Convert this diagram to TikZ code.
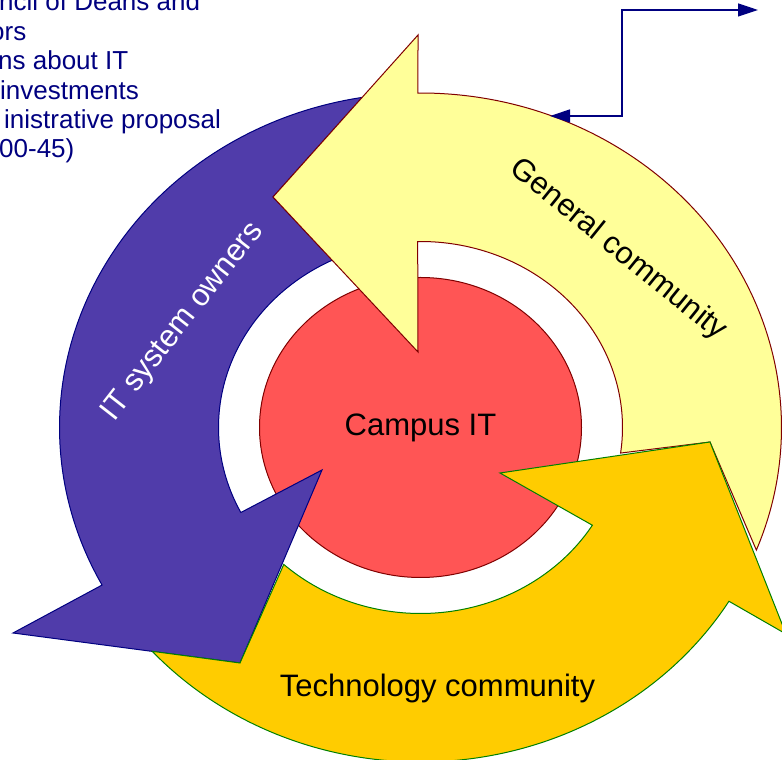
\documentclass[tikz,border=0pt]{standalone}
\usepackage{fontspec}
\setmainfont{Liberation Sans}
\usetikzlibrary{arrows.meta,shapes.geometric}
\definecolor{memoblue}{RGB}{0,0,128}
\definecolor{ownerfill}{RGB}{80,60,170}
\definecolor{generalfill}{RGB}{255,255,153}
\definecolor{techfill}{RGB}{255,204,0}
\definecolor{campusfill}{RGB}{255,85,85}
\definecolor{rimred}{RGB}{128,0,0}
\definecolor{rimgreen}{RGB}{0,128,0}

\begin{document}
\begin{tikzpicture}[x=1pt, y=1pt,
    owner/.style={draw=memoblue, fill=ownerfill, line width=1pt},
    general/.style={draw=rimred, fill=generalfill, line width=1pt},
    tech/.style={draw=rimgreen, fill=techfill, line width=1pt},
    campus/.style={ellipse, draw=rimred, fill=campusfill, line width=1pt,
        minimum width=322pt, minimum height=300pt, inner sep=0pt,
        font=\fontsize{31}{37}\selectfont},
    ringlabel/.style={font=\fontsize{31}{37}\selectfont, inner sep=0pt},
    memo/.style={anchor=base west, text=memoblue, inner sep=0pt,
        font=\fontsize{26}{30}\selectfont},
    link/.style={draw=memoblue, line width=1.2pt,
        arrows={Triangle[length=20pt,width=13pt]-Triangle[length=20pt,width=13pt]}}]
    % page from (0,0) to (782,760)
    \useasboundingbox (0,0) rectangle (782,760);

    % the ring, origin moved to its centre
    % outer rim 361 x 334.5, inner rim 202 x 186
    \begin{scope}[shift={(420.5,332.5)}]
        % centre first, the arrow heads lie on top of it
        \node[campus] (campus) at (0,0) {};

        % IT system owners (tail ends under the yellow head)
        \draw[owner] (-147.5,230.5) -- (99.3:361 and 334.5)
            arc[start angle=99.3, end angle=208.1, x radius=361, y radius=334.5]
            -- (-407.5,-205.5) -- (-180.5,-235.5) -- (-98.5,-42.5)
            -- (207.2:202 and 186)
            arc[start angle=207.2, end angle=115.9, x radius=202, y radius=186]
            -- cycle;

        % general community (head points left at the top)
        \draw[general] (-147.5,230.5) -- (-2.5,392.5) -- (90.4:361 and 334.5)
            arc[start angle=90.4, end angle=-21.5, x radius=361, y radius=334.5]
            -- (289.5,-14.5) -- (-7.9:202 and 186)
            arc[start angle=-7.9, end angle=90.8, x radius=202, y radius=186]
            -- (-2.5,75.5) -- cycle;

        % technology community (head points up at the right)
        \draw[tech] (289.5,-14.5) -- (79.5,-45.5) -- (-31.7:202 and 186)
            arc[start angle=-31.7, end angle=-132.6, x radius=202, y radius=186]
            -- (-180.5,-235.5) -- (-138:361 and 334.5)
            arc[start angle=-138, end angle=-31.3, x radius=361, y radius=334.5]
            -- (365.5,-206.5) -- cycle;

        \node[ringlabel] (campustext) at (campus.center) {Campus IT};
    \end{scope}

    % Labels on the ring
    \node[ringlabel, text=white, rotate=52] (owners) at (183,438) {IT system owners};
    \node[ringlabel, rotate=-39] (general) at (618,510) {General community};
    \node[ringlabel, anchor=base] (technology) at (437.5,63) {Technology community};

    % Memo text, cut by the left edge
    \node[memo] (memoa) at (-1,749) {ncil of Deans and};
    \node[memo] (memob) at (-10,719) {ors};
    \node[memo] (memoc) at (-2,690) {ns about IT};
    \node[memo] (memod) at (0,660) {investments};
    \node[memo] (memoe) at (4,631) {inistrative proposal};
    \node[memo] (memof) at (-1,602) {00-45)};

    % connector from the general community to the right
    \coordinate (gcin) at (550,644);
    \coordinate (elbow) at (622,644);
    \coordinate (away) at (758,750);
    \draw[link] (gcin) -- (elbow) |- (away);
\end{tikzpicture}
\end{document}
